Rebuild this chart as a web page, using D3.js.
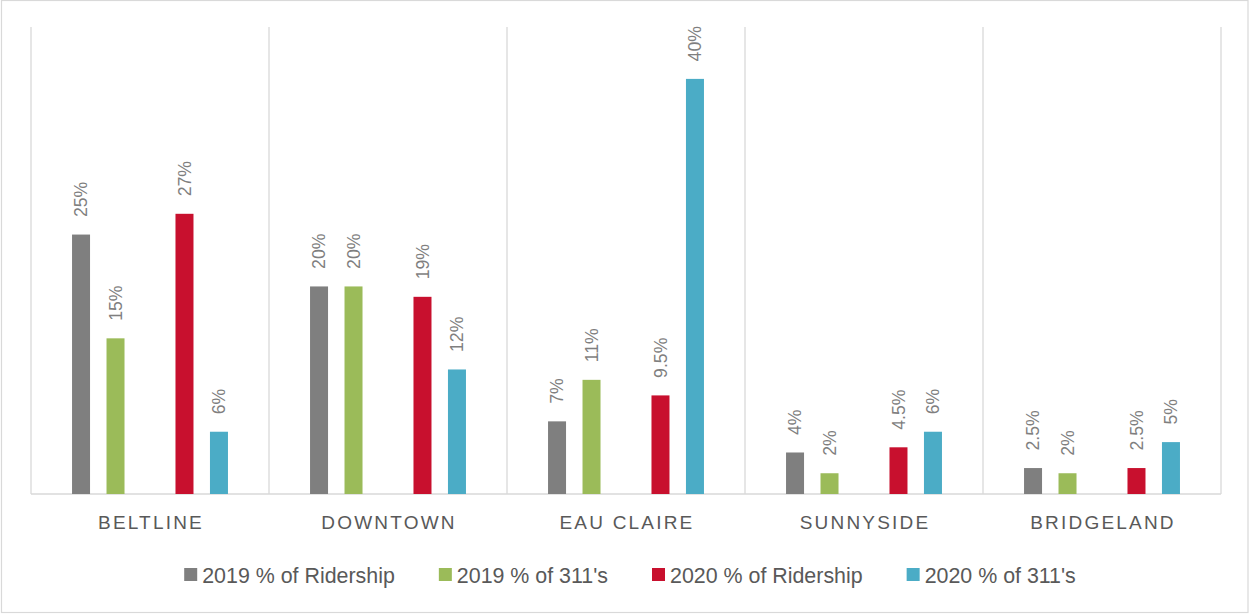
<!DOCTYPE html>
<html>
<head>
<meta charset="utf-8">
<script src="https://cdn.jsdelivr.net/npm/d3@7"></script>
<style>
  html, body { margin: 0; padding: 0; background: #fff; }
  svg { display: block; font-family: "Liberation Sans", Arial, sans-serif; }
</style>
</head>
<body>
<svg id="chart" width="1250" height="614"></svg>
<script>
// ---- Data ----
const categories = ["BELTLINE", "DOWNTOWN", "EAU CLAIRE", "SUNNYSIDE", "BRIDGELAND"];
const seriesNames = ["2019 % of Ridership", "2019 % of 311's", "2020 % of Ridership", "2020 % of 311's"];
const ridership2019 = [25, 20, 7, 4, 2.5];
const calls2019 = [15, 20, 11, 2, 2];
const ridership2020 = [27, 19, 9.5, 4.5, 2.5];
const calls2020 = [6, 12, 40, 6, 5];
const labels2019R = ["25%", "20%", "7%", "4%", "2.5%"];
const labels2019C = ["15%", "20%", "11%", "2%", "2%"];
const labels2020R = ["27%", "19%", "9.5%", "4.5%", "2.5%"];
const labels2020C = ["6%", "12%", "40%", "6%", "5%"];
const colors = ["#7f7f7f", "#9bbb59", "#c8102e", "#4bacc6"];

const seriesValues = [ridership2019, calls2019, ridership2020, calls2020];
const seriesLabels = [labels2019R, labels2019C, labels2020R, labels2020C];
// slot keys: an empty slot sits between the 2019 and 2020 series
const slotKeys = ["s0", "s1", "gap", "s2", "s3"];
const seriesSlot = ["s0", "s1", "s2", "s3"];

// ---- Layout ----
const W = 1250, H = 614;
const plot = { left: 31, right: 1221, top: 27, bottom: 494 };
const svg = d3.select("#chart");

// outer border
svg.append("rect")
  .attr("x", 1.5).attr("y", 0.5)
  .attr("width", W - 3.5).attr("height", H - 2)
  .attr("fill", "none").attr("stroke", "#d9d9d9").attr("stroke-width", 1.2);

const x0 = d3.scaleBand().domain(categories).range([plot.left, plot.right]).padding(0);
const x1 = d3.scaleBand().domain(slotKeys).range([0, x0.bandwidth()])
  .paddingInner(0.478).paddingOuter(1.19);
const y = d3.scaleLinear().domain([0, 45]).range([plot.bottom, plot.top]);

// vertical separators
const bounds = categories.map(c => x0(c)).concat([plot.right]);
svg.append("g").selectAll("line").data(bounds).join("line")
  .attr("x1", d => d).attr("x2", d => d)
  .attr("y1", plot.top).attr("y2", plot.bottom)
  .attr("stroke", "#d9d9d9").attr("stroke-width", 1.3);

// baseline
svg.append("line")
  .attr("x1", plot.left).attr("x2", plot.right)
  .attr("y1", y(0)).attr("y2", y(0))
  .attr("stroke", "#d9d9d9").attr("stroke-width", 1.3);

// bars
const barData = [];
seriesValues.forEach((vals, si) => {
  vals.forEach((v, ci) => {
    barData.push({ si, cat: categories[ci], v, label: seriesLabels[si][ci] });
  });
});

const bars = svg.append("g");
bars.selectAll("rect").data(barData).join("rect")
  .attr("x", d => x0(d.cat) + x1(seriesSlot[d.si]))
  .attr("y", d => y(d.v))
  .attr("width", x1.bandwidth())
  .attr("height", d => y(0) - y(d.v))
  .attr("fill", d => colors[d.si]);

// data labels (rotated)
bars.selectAll("text").data(barData).join("text")
  .attr("transform", d => {
    const cx = x0(d.cat) + x1(seriesSlot[d.si]) + x1.bandwidth() / 2;
    const ty = y(d.v) - 17.5;
    return `translate(${cx},${ty}) rotate(-90)`;
  })
  .attr("dy", "0.36em")
  .attr("text-anchor", "start")
  .attr("font-size", 17.7)
  .attr("fill", "#7f7f7f")
  .text(d => d.label);

// category labels
svg.append("g").selectAll("text").data(categories).join("text")
  .attr("x", d => x0(d) + x0.bandwidth() / 2 + 1)
  .attr("y", 529)
  .attr("text-anchor", "middle")
  .attr("font-size", 19)
  .attr("letter-spacing", 2.2)
  .attr("fill", "#595959")
  .text(d => d);

// legend
const legend = svg.append("g");
const items = legend.selectAll("g").data(seriesNames).join("g");
items.append("rect")
  .attr("width", 13).attr("height", 13).attr("y", 568)
  .attr("fill", (d, i) => colors[i]);
items.append("text")
  .attr("x", 18).attr("y", 582.5)
  .attr("font-size", 21.4)
  .attr("fill", "#595959")
  .text(d => d);
let xpos = 0;
const widths = [];
items.each(function () {
  const w = this.querySelector("text").getComputedTextLength();
  widths.push(w);
});
const gap = 44;
const offsets = [];
widths.forEach((w, i) => { offsets.push(xpos); xpos += 18 + w + gap; });
const total = xpos - gap;
const startX = 630 - total / 2;
items.attr("transform", (d, i) => `translate(${startX + offsets[i]},0)`);
</script>
</body>
</html>
